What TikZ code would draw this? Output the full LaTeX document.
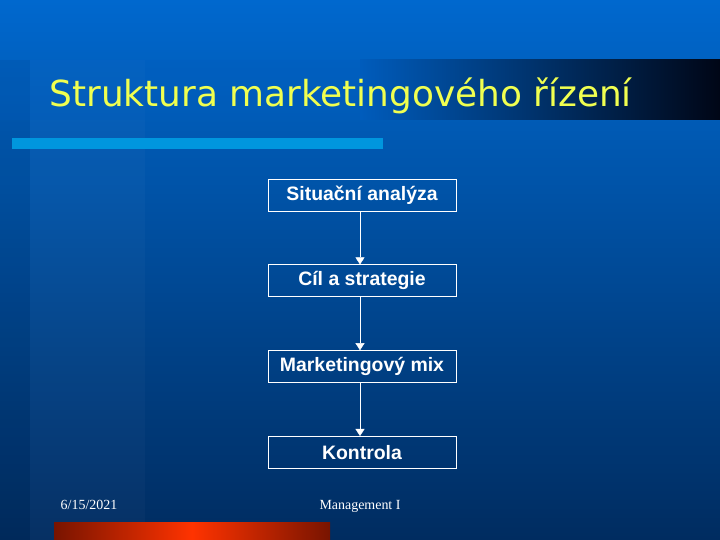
\documentclass[tikz,border=0pt]{standalone}
\usepackage{fontspec}
\setmainfont{Liberation Serif}
\newfontfamily\boxfont{Liberation Sans}
\newfontfamily\titlefont{DejaVu Sans}
\usetikzlibrary{positioning, arrows.meta}
\definecolor{bgtop}{RGB}{0,104,206}
\definecolor{bgbottom}{RGB}{0,44,96}
\definecolor{bandmid}{RGB}{0,92,188}
\definecolor{banddark}{RGB}{0,6,22}
\definecolor{barblue}{RGB}{0,150,222}
\definecolor{redmid}{RGB}{255,51,0}
\definecolor{reddark}{RGB}{120,20,0}
\definecolor{titleyellow}{RGB}{240,255,80}
\tikzset{
node distance=53bp, % gap between the boxes
stepbox/.style={draw=white, thick, minimum width=188bp, minimum height=32bp,
  inner sep=0pt, text=white, font=\boxfont\bfseries\fontsize{19.5}{22}\selectfont},
flow/.style={draw=white, -{Triangle[width=9bp,length=7bp]}},
foottext/.style={anchor=base, text=white, font=\fontsize{14}{16}\selectfont},
}
\begin{document}
\begin{tikzpicture}[x=1bp, y=-1bp]
\useasboundingbox (0,0) rectangle (720,540);
% background
\shade[top color=bgtop, bottom color=bgbottom] (0,0) rectangle (720,540);
\fill[white, opacity=0.025] (30,60) rectangle (145,540);
\fill[black, opacity=0.06] (0,60) rectangle (30,540);
% title band
\fill[bandmid, opacity=0.25] (0,60) rectangle (360,120);
\shade[left color=bandmid, right color=banddark] (360,60) rectangle (720,120);
\node[anchor=base west, text=titleyellow, font=\titlefont\fontsize{36}{40}\selectfont]
  (title) at (46,107) {Struktura marketingového řízení};
\fill[barblue] (12,138) rectangle (383,149);
% red bar
\shade[left color=reddark, right color=reddark, middle color=redmid] (54,522) rectangle (330,540);

\node[stepbox] (sa) at (362,195) {Situační analýza};
\node[stepbox, below=of sa] (cs) {Cíl a strategie};
\node[stepbox, below=of cs] (mm) {Marketingový mix};
\node[stepbox, below=of mm] (ko) {Kontrola};

\draw[flow] ([xshift=-2bp]sa.south) -- ([xshift=-2bp]cs.north);
\draw[flow] ([xshift=-2bp]cs.south) -- ([xshift=-2bp]mm.north);
\draw[flow] ([xshift=-2bp]mm.south) -- ([xshift=-2bp]ko.north);

% footer
\node[foottext] (date) at (89,509) {6/15/2021};
\node[foottext] (foot) at (360,509) {Management I};
\end{tikzpicture}
\end{document}
